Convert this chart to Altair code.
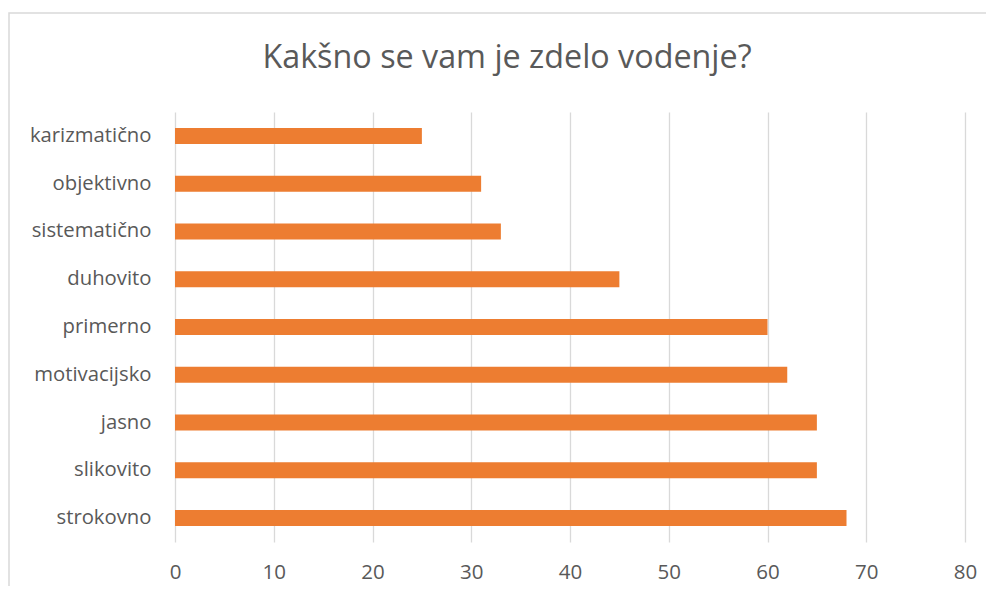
import altair as alt
import pandas as pd

categories = ["karizmatično", "objektivno", "sistematično", "duhovito", "primerno",
              "motivacijsko", "jasno", "slikovito", "strokovno"]
values = [25, 31, 33, 45, 60, 62, 65, 65, 68]
x_ticks = [0, 10, 20, 30, 40, 50, 60, 70, 80]
title_text = "Kakšno se vam je zdelo vodenje?"

df = pd.DataFrame({"cat": categories, "val": values})

TEXT = "#595959"
GRID = "#D9D9D9"
FONT = "Open Sans"

frame = alt.Chart(pd.DataFrame({"a": [0]})).mark_rect(
    fill="transparent", fillOpacity=0, stroke=GRID, strokeWidth=1.5
).encode(
    x=alt.value(-166), x2=alt.value(830),
    y=alt.value(-99), y2=alt.value(500),
)

title = alt.Chart(pd.DataFrame({"t": [title_text]})).mark_text(
    font=FONT, fontSize=32.3, color=TEXT, align="center", baseline="alphabetic"
).encode(
    text="t:N", x=alt.value(332), y=alt.value(-44),
)

bars = alt.Chart(df).mark_bar(color="#ED7D31").encode(
    y=alt.Y("cat:N", sort=categories, title=None,
            scale=alt.Scale(paddingInner=0.665, paddingOuter=0.3325),
            axis=alt.Axis(domain=False, ticks=False, grid=False,
                          labelFont=FONT, labelFontSize=20.3, labelColor=TEXT,
                          labelPadding=24)),
    x=alt.X("val:Q", title=None,
            scale=alt.Scale(domain=[0, 80], nice=False),
            axis=alt.Axis(values=x_ticks, domain=False, ticks=False,
                          grid=True, gridColor=GRID, gridWidth=1.3,
                          labelFlush=False,
                          labelFont=FONT, labelFontSize=20.5, labelColor=TEXT,
                          labelPadding=20)),
)

chart = alt.layer(frame, title, bars).properties(
    width=790, height=430,
    autosize=alt.AutoSizeParams(type="none"),
    padding={"left": 167, "top": 104, "right": 21, "bottom": 44},
).configure_view(stroke=None)

chart.save("out.html", embed_options={"renderer": "svg", "actions": False})
